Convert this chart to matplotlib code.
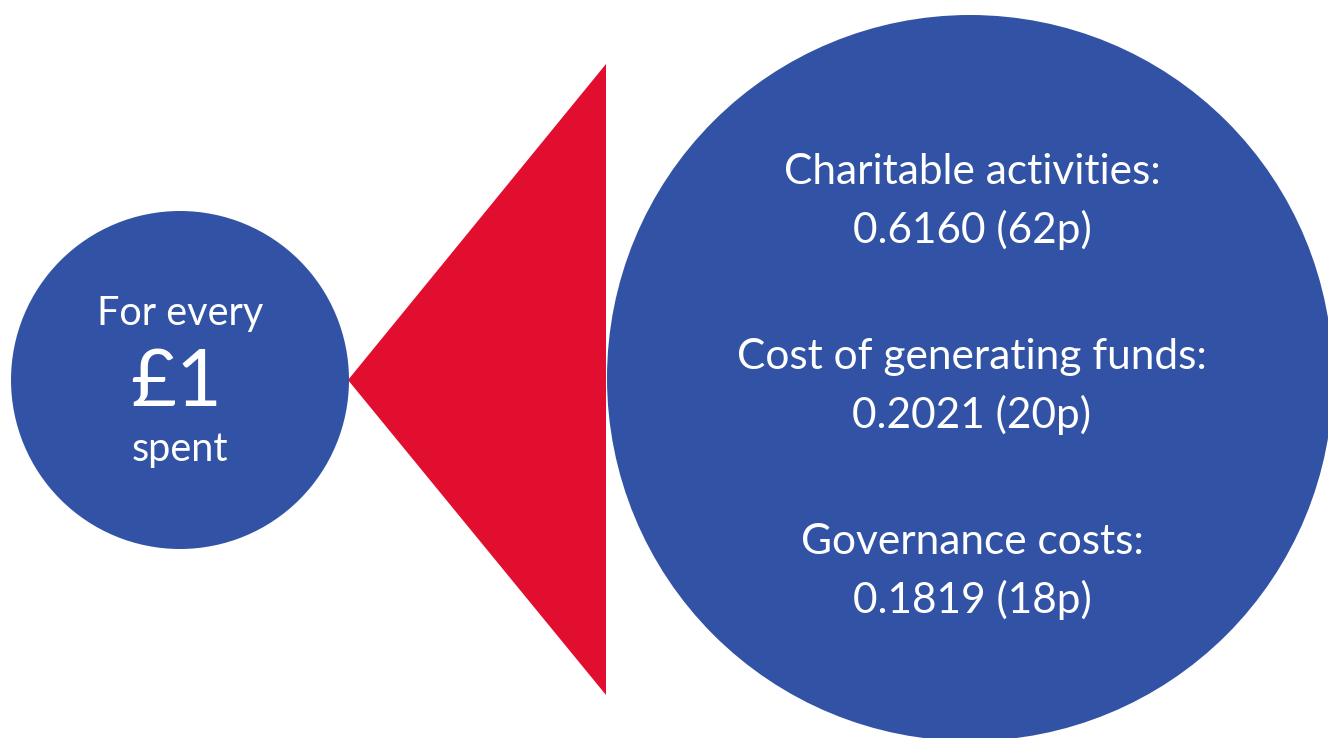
import matplotlib
matplotlib.use("Agg")
import matplotlib.pyplot as plt
from matplotlib.patches import Circle, Polygon

# data
categories = ["Charitable activities:", "Cost of generating funds:", "Governance costs:"]
values = ["0.6160", "0.2021", "0.1819"]
pence = ["(62p)", "(20p)", "(18p)"]
intro = ["For every", "£1", "spent"]

BLUE = "#3253a5"
RED = "#e10e2f"
plt.rcParams["font.family"] = ["Lato", "DejaVu Sans"]

fig = plt.figure(figsize=(13.28, 7.38), dpi=100)
ax = fig.add_axes([0, 0, 1, 1])
ax.set_xlim(0, 1328)
ax.set_ylim(738, 0)
ax.set_aspect("equal")
ax.axis("off")

# shapes
ax.add_patch(Polygon([(348, 380), (606, 64), (606, 695)], closed=True, color=RED, lw=0))
ax.add_patch(Circle((180, 380), 169, color=BLUE, lw=0))
ax.add_patch(Circle((970, 378), 363, color=BLUE, lw=0))

# left circle text
ax.text(180, 313, intro[0], color="white", fontsize=28.5, ha="center", va="center")
ax.text(176, 384, intro[1], color="white", fontsize=57, ha="center", va="center")
ax.text(180, 449, intro[2], color="white", fontsize=28.5, ha="center", va="center")

# right circle text
y0 = 172
for i, cat in enumerate(categories):
    y = y0 + i * 185
    ax.text(972, y, cat, color="white", fontsize=30.5, ha="center", va="center")
    ax.text(972, y + 58, f"{values[i]} {pence[i]}", color="white", fontsize=30.5,
            ha="center", va="center")

fig.savefig("out.png", dpi=100, facecolor="white")
